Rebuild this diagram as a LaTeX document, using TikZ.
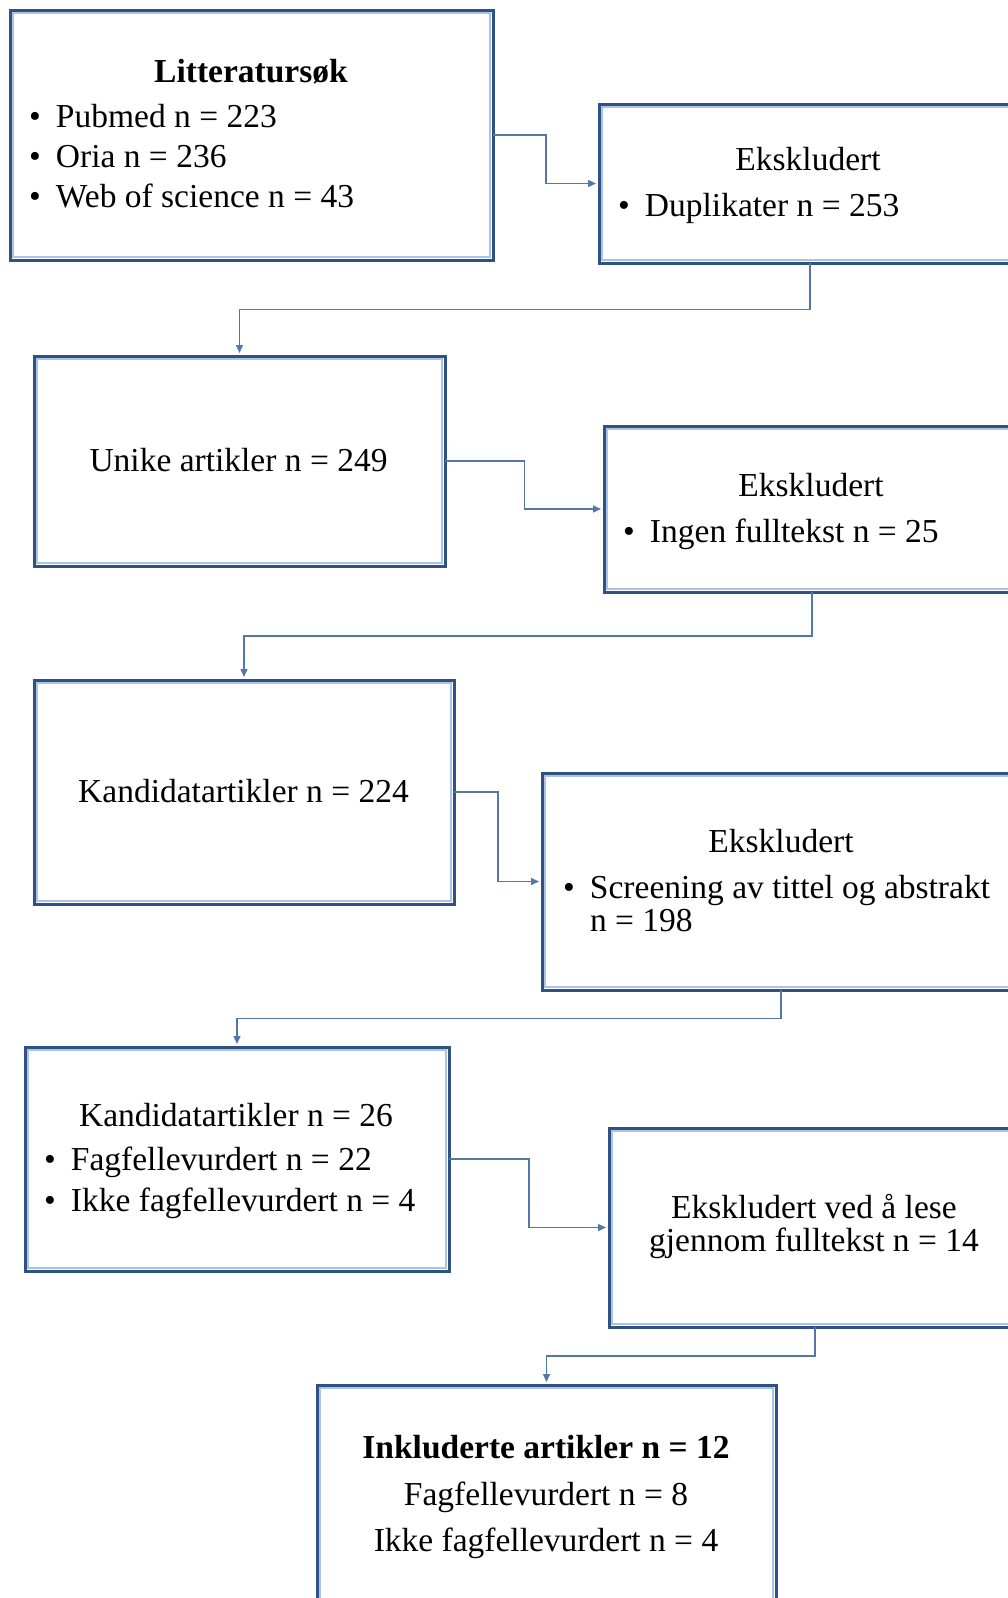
\documentclass[tikz,border=0pt]{standalone}
\usepackage{fontspec}
\setmainfont{Liberation Serif}
\usetikzlibrary{arrows.meta,calc}
\definecolor{bdark}{HTML}{2F5283}
\definecolor{blight}{HTML}{A9C5E6}
\definecolor{cline}{HTML}{5277A8}
\newcommand\bulletmark{\makebox[27pt][l]{\textbullet}}
\begin{document}
\begin{tikzpicture}[x=1pt,y=-1pt,
  box/.style={draw=bdark, line width=3pt, outer sep=0pt, inner sep=0pt},
  inl/.style={draw=blight, line width=1.2pt},
  conn/.style={draw=cline, line width=1.4pt, -{Triangle[length=8pt,width=7pt]}, shorten >=3pt},
  txt/.style={inner sep=0pt, outer sep=0pt, font=\fontsize{33.5}{40}\selectfont},
]
\clip (0,0) rectangle (1008,1598);
\fill[white] (0,0) rectangle (1008,1598);

% boxes
\node[box, minimum width=483pt, minimum height=250pt] (b1) at (251.5,135) {};
\node[box, minimum width=422pt, minimum height=159pt] (b2) at (810,183.5) {};
\node[box, minimum width=411pt, minimum height=210pt] (b3) at (239.5,461) {};
\node[box, minimum width=416pt, minimum height=166pt] (b4) at (812,509) {};
\node[box, minimum width=420pt, minimum height=224pt] (b5) at (244,792) {};
\node[box, minimum width=478pt, minimum height=217pt] (b6) at (781,881.5) {};
\node[box, minimum width=424pt, minimum height=224pt] (b7) at (237,1159) {};
\node[box, minimum width=412pt, minimum height=199pt] (b8) at (815,1227.5) {};
\node[box, minimum width=459pt, minimum height=275pt] (b9) at (546.5,1522.5) {};

\foreach \n in {b1,b2,b3,b4,b5,b6,b7,b8,b9}
  \draw[inl] ([shift={(3,3)}]\n.north west) rectangle ([shift={(-3,-3)}]\n.south east);

% connectors
\draw[conn] (b1.east) -| ($(b1.east)!.5!(b2.west)$) |- (b2.west);
\draw[conn] (b2.south) |- ($(b2.south)!.5!(b3.north)$) -| (b3.north);
\draw[conn] (b3.east) -| ($(b3.east)!.5!(b4.west)$) |- (b4.west);
\draw[conn] (b4.south) |- ($(b4.south)!.5!(b5.north)$) -| (b5.north);
\draw[conn] (b5.east) -| ($(b5.east)!.5!(b6.west)$) |- (b6.west);
\draw[conn] (b6.south) |- ($(b6.south)!.5!(b7.north)$) -| (b7.north);
\draw[conn] (b7.east) -| ($(b7.east)!.5!(b8.west)$) |- (b8.west);
\draw[conn] (b8.south) |- ($(b8.south)!.5!(b9.north)$) -| (b9.north);

% texts box 1
\node[txt, anchor=base] (t1a) at (251,82) {\textbf{Litteraturs\o k}};
\node[txt, anchor=base west] (t1b) at (29,127) {\bulletmark Pubmed n = 223};
\node[txt, anchor=base west] (t1c) at (29,167) {\bulletmark Oria n = 236};
\node[txt, anchor=base west] (t1d) at (29,207) {\bulletmark Web of science n = 43};
% box 2
\node[txt, anchor=base] (t2a) at (808,170) {Ekskludert};
\node[txt, anchor=base west] (t2b) at (618,216) {\bulletmark Duplikater n = 253};
% box 3
\node[txt, anchor=base] (t3a) at (238.5,471) {Unike artikler n = 249};
% box 4
\node[txt, anchor=base] (t4a) at (811,496) {Ekskludert};
\node[txt, anchor=base west] (t4b) at (623,542) {\bulletmark Ingen fulltekst n = 25};
% box 5
\node[txt, anchor=base] (t5a) at (243.5,802) {Kandidatartikler n = 224};
% box 6
\node[txt, anchor=base] (t6a) at (781,852) {Ekskludert};
\node[txt, anchor=base west] (t6b) at (563,898) {\bulletmark Screening av tittel og abstrakt};
\node[txt, anchor=base west] (t6c) at (590,931) {n = 198};
% box 7
\node[txt, anchor=base] (t7a) at (236,1126) {Kandidatartikler n = 26};
\node[txt, anchor=base west] (t7b) at (44,1170) {\bulletmark Fagfellevurdert n = 22};
\node[txt, anchor=base west] (t7c) at (44,1211) {\bulletmark Ikke fagfellevurdert n = 4};
% box 8
\node[txt, anchor=base] (t8a) at (814,1218) {Ekskludert ved å lese};
\node[txt, anchor=base] (t8b) at (814,1251) {gjennom fulltekst n = 14};
% box 9
\node[txt, anchor=base] (t9a) at (546,1458) {\textbf{Inkluderte artikler n = 12}};
\node[txt, anchor=base] (t9b) at (546,1505) {Fagfellevurdert n = 8};
\node[txt, anchor=base] (t9c) at (546,1551) {Ikke fagfellevurdert n = 4};
\end{tikzpicture}
\end{document}
